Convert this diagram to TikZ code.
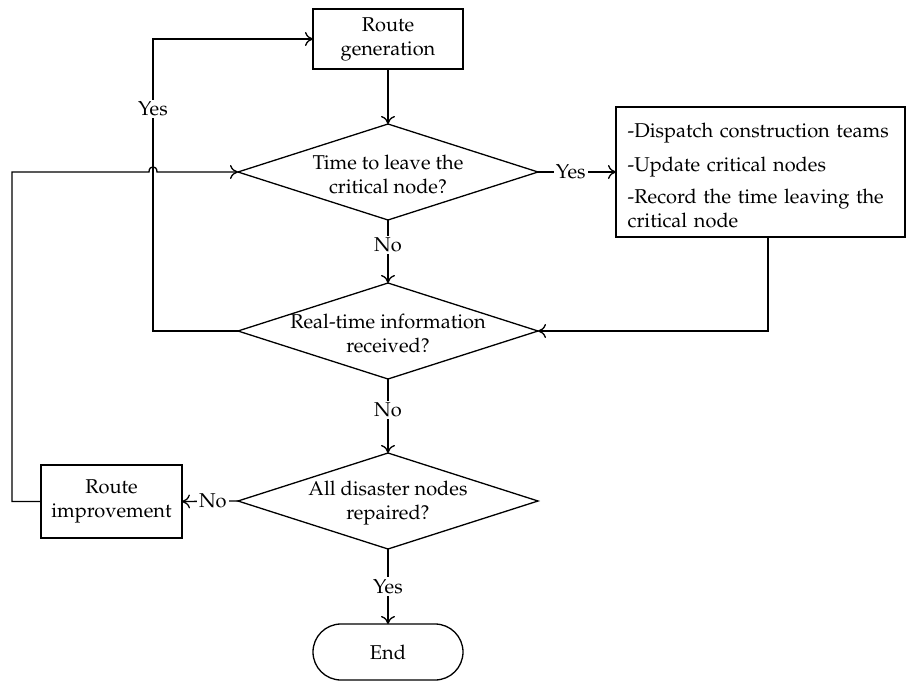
\documentclass[tikz,border=0pt]{standalone}
\usepackage[T1]{fontenc}
\usepackage{mathpazo}
\usetikzlibrary{shapes.geometric,shapes.misc,arrows.meta}
\begin{document}
\begin{tikzpicture}[x=0.5pt,y=-0.5pt,
  line width=0.65pt,
  >={To[length=4pt,width=7pt]},
  every node/.style={font=\fontsize{10}{12}\selectfont},
  proc/.style={draw, rectangle, align=center, inner sep=0pt, outer sep=0pt},
  dec/.style={draw, diamond, minimum width=150pt, minimum height=48pt, inner sep=0pt, outer sep=0pt},
  term/.style={draw, rounded rectangle, minimum width=75pt, minimum height=28pt, inner sep=0pt, outer sep=0pt},
  lab/.style={fill=white, inner sep=1pt}
]
\useasboundingbox (0,0) rectangle (906,681);

\node[proc, minimum width=75pt, minimum height=30pt] (gen) at (388,39) {Route\\generation};
\node[dec] (d1) at (388,172) {};
\node[align=center] (t1) at (388,174) {Time to leave the\\critical node?};
\node[proc, minimum width=144.5pt, minimum height=65pt] (act) at (760.5,172) {};
\node[align=left, text width=133.5pt, inner sep=0pt, anchor=north west] (acttxt) at (627,122)
  {-Dispatch construction teams\\[5pt]-Update critical nodes\\[4pt]-Record the time leaving the\\critical node};
\node[dec] (d2) at (388,331) {};
\node[align=center] (t2) at (388,333) {Real-time information\\received?};
\node[dec] (d3) at (388,501) {};
\node[align=center] (t3) at (388,503) {All disaster nodes\\repaired?};
\node[proc, minimum width=70.5pt, minimum height=36.5pt] (rimp) at (111.5,501.5) {Route\\improvement};
\node[term] (end) at (388,652) {End};

\coordinate (lc) at (153,331);
\coordinate (hl) at (12,172);

\draw[->] (gen.south) -- (d1.north);
\draw[->] (d1.east) -- node[lab, pos=0.42] {Yes} (act.west);
\draw[->] (d1.south) -- node[lab, pos=0.4] {No} (d2.north);
\draw[->] ([xshift=3.75pt]act.south) |- (d2.east);
\draw[->] (d2.west) -- (lc) |- node[lab, pos=0.38] {Yes} (gen.west);
\draw[->] (d2.south) -- node[lab, pos=0.42] {No} (d3.north);
\draw[->] (d3.west) -- node[lab, pos=0.45] {No} (rimp.east);
\draw[->] (d3.south) -- node[lab, pos=0.5] {Yes} (end.north);
\draw[->] (rimp.west) -| (hl) -- (149,172) .. controls (149,165) and (157,165) .. (157,172) -- (d1.west);
\end{tikzpicture}
\end{document}
